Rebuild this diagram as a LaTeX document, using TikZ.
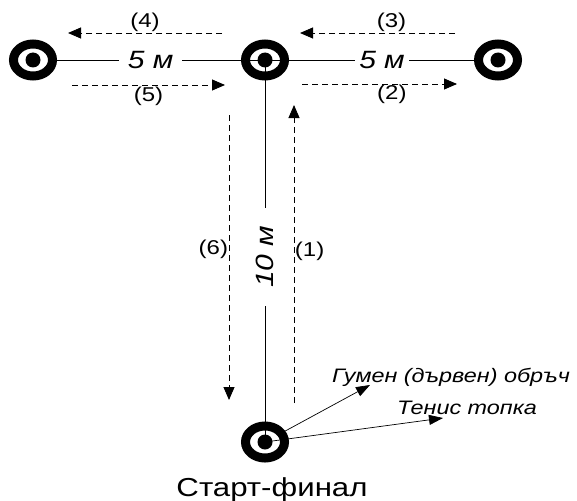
\documentclass[tikz,border=0pt]{standalone}
\usepackage{fontspec}
\setmainfont{Liberation Sans}[FakeStretch=1.2]
\usetikzlibrary{arrows.meta,shapes.geometric}

\tikzset{
  hoop/.style={ellipse, draw, line width=9pt, minimum width=39pt, minimum height=32pt, inner sep=0pt,
    path picture={\fill (path picture bounding box.center) circle (7.5pt);}},
  run/.style={dash pattern=on 6pt off 4pt, line width=0.9pt, -{Triangle[length=13pt,width=11pt]}},
  note/.style={line width=0.7pt, -{Triangle[length=14pt,width=10pt]}},
  dist/.style={fill=white, font=\fontsize{25}{28}\selectfont\itshape, inner ysep=0pt},
  num/.style={font=\fontsize{20}{22}\selectfont, inner sep=0.5pt},
  notetext/.style={font=\fontsize{19.5}{22}\selectfont\itshape, inner sep=0pt, anchor=base}
}

\begin{document}
\begin{tikzpicture}
  [x=1pt, y=-1pt]
  \useasboundingbox (0,0) rectangle (577,500);
  \node[hoop] (hl) at (33,60) {};
  \node[hoop] (hm) at (265,60) {};
  \node[hoop] (hr) at (498,60) {};
  \node[hoop] (hs) at (265,442) {};

  \draw[line width=0.8pt] (hl) -- node[dist, pos=.45, inner xsep=9pt] {5 м} (hm.center);
  \draw[line width=0.8pt] (hm.center) -- node[dist, pos=.56, inner xsep=4pt] {5 м} (hr);
  \draw[line width=0.8pt] (hm.center) -- node[dist, pos=.515, rotate=90, inner xsep=18pt] {10 м} (hs.center);

  \coordinate (r1s) at (294,403);
  \coordinate (r1e) at (294,105);
  \coordinate (r2s) at (302,84);
  \coordinate (r2e) at (457,84);
  \coordinate (r3s) at (455,33);
  \coordinate (r3e) at (300,33);
  \coordinate (r4s) at (222,33);
  \coordinate (r4e) at (68,33);
  \coordinate (r5s) at (72,85);
  \coordinate (r5e) at (225,85);
  \coordinate (r6s) at (229,115);
  \coordinate (r6e) at (229,400);

  \draw[run] (r1s) -- node[num, pos=.51, right] {(1)} (r1e);
  \draw[run] (r2s) -- node[num, pos=.58, below] {(2)} (r2e);
  \draw[run] (r3s) -- node[num, pos=.41, above] {(3)} (r3e);
  \draw[run] (r4s) -- node[num, above] {(4)} (r4e);
  \draw[run] (r5s) -- node[num, below, yshift=-1pt] {(5)} (r5e);
  \draw[run] (r6s) -- node[num, pos=.47, left] {(6)} (r6e);

  \node[notetext] (thoop) at (451,382) {Гумен (дървен) обръч};
  \node[notetext] (tball) at (467,414) {Тенис топка};
  \coordinate (ahoop) at (370,385);
  \coordinate (aball) at (443,418);
  \draw[note] (hs) -- (ahoop);
  \draw[note] (hs.center) -- (aball);

  \node[font=\fontsize{26}{29}\selectfont, anchor=base] (start) at (272,496) {Старт-финал};
\end{tikzpicture}
\end{document}
